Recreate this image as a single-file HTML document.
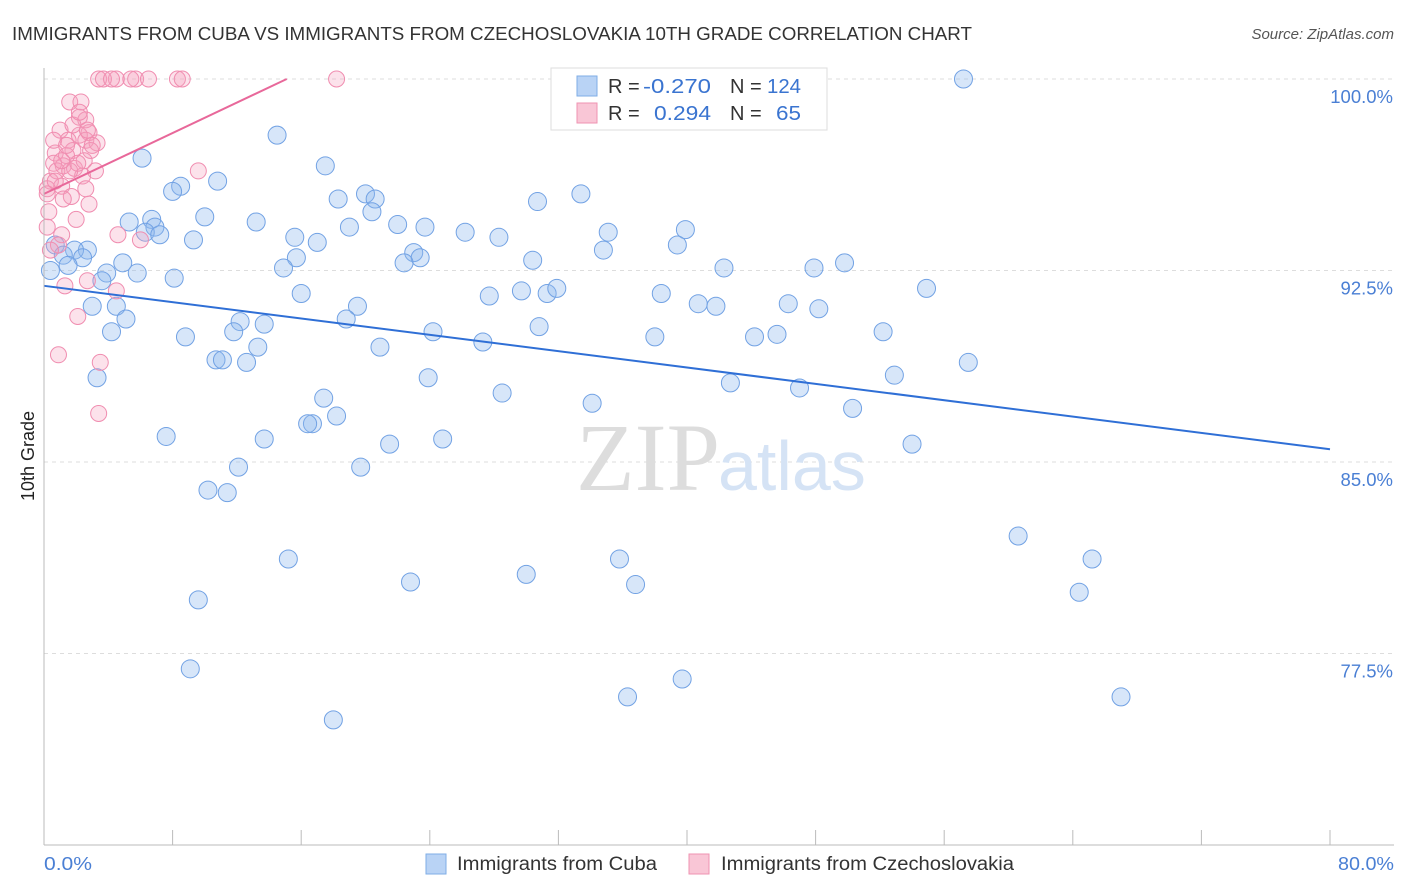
<!DOCTYPE html>
<html><head><meta charset="utf-8"><style>
body{margin:0;background:#fff;font-family:"Liberation Sans",sans-serif;}
svg{display:block}
</style></head><body>
<svg id="chart" width="1406" height="892" xmlns="http://www.w3.org/2000/svg">
<text x="12" y="40" font-size="18" fill="#333" textLength="960" lengthAdjust="spacingAndGlyphs">IMMIGRANTS FROM CUBA VS IMMIGRANTS FROM CZECHOSLOVAKIA 10TH GRADE CORRELATION CHART</text>
<text x="1394" y="39" font-size="15" fill="#555" font-style="italic" text-anchor="end">Source: ZipAtlas.com</text>
<g id="grid"></g>
<text x="720" y="490" font-size="96" fill="#ddd" text-anchor="end" font-family="Liberation Serif">ZIP</text>
<text x="718" y="490" font-size="70" fill="#d5e3f5">atlas</text>
<g id="pts"></g>
<g id="axes"></g>
<text x="34" y="456" font-size="18" fill="#222" text-anchor="middle" transform="rotate(-90 34 456)">10th Grade</text>
<text x="44" y="870" font-size="18" fill="#4a7fd4" textLength="48" lengthAdjust="spacingAndGlyphs">0.0%</text>
<text x="1338" y="870" font-size="18" fill="#4a7fd4" textLength="56" lengthAdjust="spacingAndGlyphs">80.0%</text>
<g>
<rect x="551" y="68" width="276" height="62" fill="#fff" stroke="#ddd"/>
<rect x="577" y="76" width="20" height="20" fill="#b9d3f5" stroke="#7faee6"/>
<rect x="577" y="103" width="20" height="20" fill="#f9c6d6" stroke="#ef93b2"/>
<text x="608" y="93" font-size="20" fill="#333">R = </text>
<text x="643" y="93" font-size="20" fill="#3a74d0" textLength="68" lengthAdjust="spacingAndGlyphs">-0.270</text>
<text x="730" y="93" font-size="20" fill="#333">N = </text>
<text x="767" y="93" font-size="20" fill="#3a74d0" textLength="34" lengthAdjust="spacingAndGlyphs">124</text>
<text x="608" y="120" font-size="20" fill="#333">R = </text>
<text x="654" y="120" font-size="20" fill="#3a74d0" textLength="57" lengthAdjust="spacingAndGlyphs">0.294</text>
<text x="730" y="120" font-size="20" fill="#333">N = </text>
<text x="776" y="120" font-size="20" fill="#3a74d0" textLength="25" lengthAdjust="spacingAndGlyphs">65</text>
</g>
<g>
<rect x="426" y="854" width="20" height="20" fill="#b9d3f5" stroke="#7faee6"/>
<text x="457" y="870" font-size="19" fill="#333" textLength="200" lengthAdjust="spacingAndGlyphs">Immigrants from Cuba</text>
<rect x="689" y="854" width="20" height="20" fill="#f9c6d6" stroke="#ef93b2"/>
<text x="721" y="870" font-size="19" fill="#333" textLength="293" lengthAdjust="spacingAndGlyphs">Immigrants from Czechoslovakia</text>
</g>
</svg>
<script>
const yTicks=[100,92.5,85,77.5];
const yTickLabels=["100.0%","92.5%","85.0%","77.5%"];
const xTicks=[0,8,16,24,32,40,48,56,64,72,80];
const cubaX=[57.2,14.5,6.1,17.5,10.8,8.5,8.0,20.0,18.3,20.6,33.4,30.7,20.4,10.0,5.3,6.7,13.2,22.0,23.7,19.0,6.9,6.3,7.2,26.2,35.1,39.9,15.6,28.3,17.0,9.3,39.4,34.8,0.7,2.7,1.9,23.0,1.2,2.4,30.4,15.7,23.4,22.4,49.8,4.9,14.9,42.3,47.9,1.5,0.4,3.9,5.8,8.1,3.6,54.9,16.0,27.7,29.7,31.3,31.9,38.4,40.7,41.8,46.3,3.0,19.5,4.5,48.2,5.1,18.8,12.2,13.7,30.8,11.8,4.2,24.2,8.8,38.0,44.2,45.6,52.2,13.3,27.3,20.9,10.7,11.1,12.6,57.5,3.3,23.9,42.7,52.9,47.0,28.5,17.4,34.1,50.3,18.2,16.7,16.4,7.6,13.7,24.8,21.5,54.0,12.1,19.7,10.2,11.4,60.6,15.2,65.2,35.8,30.0,22.8,36.8,64.4,9.6,9.1,39.7,36.3,67.0,18.0];
const cubaY=[100.0,97.8,96.9,96.6,96.0,95.8,95.6,95.5,95.3,95.3,95.5,95.2,94.8,94.6,94.4,94.5,94.4,94.3,94.2,94.2,94.2,94.0,93.9,94.0,94.0,94.1,93.8,93.8,93.6,93.7,93.5,93.3,93.5,93.3,93.3,93.2,93.1,93.0,92.9,93.0,93.0,92.8,92.8,92.8,92.6,92.6,92.6,92.7,92.5,92.4,92.4,92.2,92.1,91.8,91.6,91.5,91.7,91.6,91.8,91.6,91.2,91.1,91.2,91.1,91.1,91.1,91.0,90.6,90.6,90.5,90.4,90.3,90.1,90.1,90.1,89.9,89.9,89.9,90.0,90.1,89.5,89.7,89.5,89.0,89.0,88.9,88.9,88.3,88.3,88.1,88.4,87.9,87.7,87.5,87.3,87.1,86.8,86.5,86.5,86.0,85.9,85.9,85.7,85.7,84.8,84.8,83.9,83.8,82.1,81.2,81.2,81.2,80.6,80.3,80.2,79.9,79.6,76.9,76.5,75.8,75.8,74.9];
const czX=[3.4,4.5,5.7,3.7,4.2,5.4,6.5,8.3,8.6,18.2,1.6,2.3,2.2,2.6,1.0,2.8,2.2,1.5,2.6,3.3,0.7,1.8,1.4,2.9,1.2,0.6,1.9,2.4,0.4,1.1,0.2,1.7,2.8,2.0,0.2,1.1,4.6,6.0,0.9,0.4,2.7,1.3,4.5,2.1,0.9,3.5,3.4,9.6,0.8,3.2,0.2,1.6,0.6,1.4,2.5,1.8,2.7,1.1,0.7,2.1,1.2,2.6,0.3,3.0,2.2];
const czY=[100,100,100,100,100,100,100,100,100,100,99.1,99.1,98.5,98.4,98.0,97.9,97.8,97.6,97.6,97.5,97.1,97.2,97.0,97.2,96.6,96.7,96.5,96.2,96.0,95.8,95.7,95.4,95.1,94.5,94.2,93.9,93.9,93.7,93.5,93.3,92.1,91.9,91.7,90.7,89.2,88.9,86.9,96.4,96.4,96.4,95.5,96.4,97.6,97.4,96.8,98.2,98.0,96.8,96.0,96.7,95.3,95.7,94.8,97.4,98.7];
const cubaTrend=[[0,91.9],[80,85.5]];
const czTrend=[[0,95.5],[15.1,100]];

const NS="http://www.w3.org/2000/svg";
const X=v=>44+v/80*1286;
const Y=v=>79+(100-v)/7.5*191.5;
function mk(tag,attrs,parent){const e=document.createElementNS(NS,tag);for(const k in attrs)e.setAttribute(k,attrs[k]);parent.appendChild(e);return e;}
const grid=document.getElementById('grid'),axes=document.getElementById('axes'),pts=document.getElementById('pts');
yTicks.forEach((t,i)=>{
  const l=mk('line',{x1:44,x2:1394,y1:Y(t),y2:Y(t),stroke:'#ddd','stroke-dasharray':'4 4'},grid);
  
  
  const tx=mk('text',{x:1393,y:Y(t)+24,'font-size':18.5,fill:'#4a7fd4','text-anchor':'end'},axes);
  tx.textContent=yTickLabels[i];
  
  
});
const ya=mk('line',{x1:44,x2:44,y1:68,y2:845,stroke:'#bbb'},axes);


const xa=mk('line',{x1:44,x2:1394,y1:845,y2:845,stroke:'#bbb'},axes);


xTicks.forEach(t=>{
  const l=mk('line',{x1:X(t),x2:X(t),y1:830,y2:845,stroke:'#bbb'},axes);
  
  
});
cubaX.forEach((x,i)=>{
  const c=mk('circle',{cx:X(x),cy:Y(cubaY[i]),r:9,fill:'rgba(140,182,238,0.35)',stroke:'#72a2e4','stroke-width':1},pts);
  
  
});
czX.forEach((x,i)=>{
  const c=mk('circle',{cx:X(x),cy:Y(czY[i]),r:8,fill:'rgba(245,160,190,0.3)',stroke:'#f08db0','stroke-width':1},pts);
  
  
});
const t1=mk('line',{x1:X(cubaTrend[0][0]),y1:Y(cubaTrend[0][1]),x2:X(cubaTrend[1][0]),y2:Y(cubaTrend[1][1]),stroke:'#2f6fd6','stroke-width':2},pts);


const t2=mk('line',{x1:X(czTrend[0][0]),y1:Y(czTrend[0][1]),x2:X(czTrend[1][0]),y2:Y(czTrend[1][1]),stroke:'#e8689a','stroke-width':2},pts);


</script>
</body></html>
